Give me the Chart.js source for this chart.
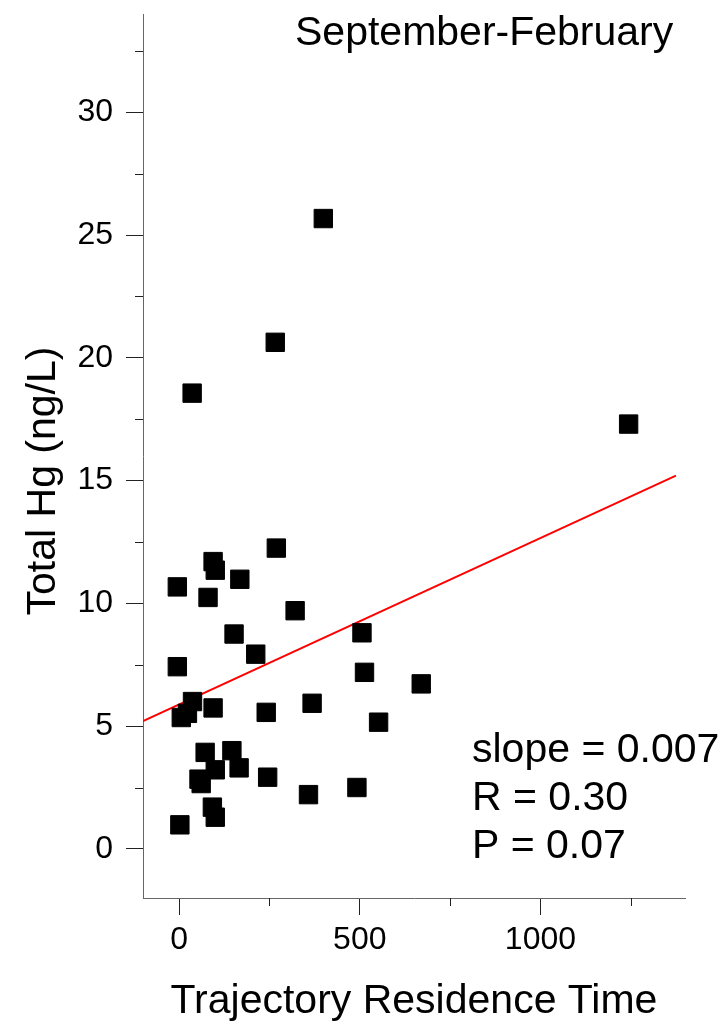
<!DOCTYPE html>
<html>
<head>
<meta charset="utf-8">
<script src="https://cdn.jsdelivr.net/npm/chart.js@4.4.1/dist/chart.umd.min.js"></script>
<style>
  html, body { margin: 0; padding: 0; background: #fff; }
  #wrap { width: 725px; height: 1025px; position: relative; }
</style>
</head>
<body>
<div id="wrap"><canvas id="ch"></canvas></div>
<script>
// residence time vs total Hg, Sept-Feb samples
var resTime = [399, 266, 36, 1244, 269, 94, 100, 168, -5, 80, 321, 152, 506, 212, -5, 513, 670,
               37, 6, 23, 94, 241, 368, 552, 72, 146, 166, 100, 55, 61, 245, 358, 492, 92, 100, 2];
var totalHg = [25.67, 20.63, 18.56, 17.3, 12.25, 11.7, 11.35, 10.98, 10.67, 10.24, 9.7, 8.75, 8.8, 7.93, 7.42, 7.19, 6.72,
               6.0, 5.35, 5.52, 5.74, 5.56, 5.93, 5.16, 3.93, 4.0, 3.3, 3.22, 2.84, 2.66, 2.92, 2.21, 2.5, 1.7, 1.29, 0.98];

// fitted line end points
var fitX = [-100, 1375];
var fitY = [5.2, 15.2];

var xMajorTicks = [0, 500, 1000];
var yMajorTicks = [0, 5, 10, 15, 20, 25, 30];
var xMinorTicks = [250, 750, 1250];
var yMinorTicks = [2.5, 7.5, 12.5, 17.5, 22.5, 27.5, 32.5];

var titleText = 'September-February';
var statsText = ['slope = 0.007', 'R = 0.30', 'P = 0.07'];
var xTitle = 'Trajectory Residence Time';
var yTitle = 'Total Hg (ng/L)';

var FONT = '"Liberation Sans", Arial, sans-serif';

var points = resTime.map(function (x, i) { return { x: x, y: totalHg[i] }; });
var fitPts = fitX.map(function (x, i) { return { x: x, y: fitY[i] }; });

// minor ticks + free text
var extras = {
  id: 'extras',
  afterDraw: function (chart) {
    var c = chart.ctx, xs = chart.scales.x, ys = chart.scales.y;
    var a = chart.chartArea;
    c.save();
    c.strokeStyle = '#222';
    c.lineWidth = 1;
    c.beginPath();
    xMinorTicks.forEach(function (v) {
      var px = Math.round(xs.getPixelForValue(v)) + 0.5;
      c.moveTo(px, a.bottom); c.lineTo(px, a.bottom + 8);
    });
    yMinorTicks.forEach(function (v) {
      var py = Math.round(ys.getPixelForValue(v)) + 0.5;
      c.moveTo(a.left, py); c.lineTo(a.left - 8, py);
    });
    c.stroke();

    c.fillStyle = '#000';
    c.font = '41px ' + FONT;
    c.textBaseline = 'alphabetic';
    c.textAlign = 'left';
    c.fillText(titleText, 295, 45);
    statsText.forEach(function (t, i) { c.fillText(t, 472, 762 + i * 48); });

    c.textAlign = 'center';
    c.fillText(xTitle, (a.left + a.right) / 2, 1013);

    c.translate(55, 481);
    c.rotate(-Math.PI / 2);
    c.fillText(yTitle, 0, 0);
    c.restore();
  }
};

function setTicks(list) {
  return function (s) { s.ticks = list.map(function (v) { return { value: v }; }); };
}

var ctx = document.getElementById('ch').getContext('2d');
var myChart = new Chart(ctx, {
    type: 'scatter',
    data: {
        datasets: [{
            data: points,
            pointStyle: 'rect',
            pointRadius: 13,
            backgroundColor: '#000',
            borderColor: '#000',
            borderWidth: 1
        }, {
            type: 'line',
            data: fitPts,
            borderColor: '#ff0000',
            borderWidth: 2,
            pointRadius: 0,
            fill: false
        }]
    },
    options: {
        responsive: true,
        maintainAspectRatio: false,
        animation: false,
        layout: { padding: { top: 13, right: 40, left: 0, bottom: 0 } },
        plugins: { legend: { display: false }, tooltip: { enabled: false } },
        scales: {
            x: {
                type: 'linear',
                min: -100,
                max: 1400,
                afterBuildTicks: setTicks(xMajorTicks),
                afterFit: function (s) { s.height = 127; s.paddingLeft = 0; s.paddingRight = 0; },
                border: { display: true, color: '#666', width: 1 },
                grid: { drawOnChartArea: false, drawTicks: true, tickLength: 17, tickColor: '#222' },
                ticks: { padding: 6, color: '#000', font: { family: FONT, size: 32 }, maxRotation: 0,
                         callback: function (v) { return String(v); } }
            },
            y: {
                min: -2,
                max: 34,
                afterBuildTicks: setTicks(yMajorTicks),
                afterFit: function (s) { s.width = 143; s.paddingTop = 0; s.paddingBottom = 0; },
                border: { display: true, color: '#666', width: 1 },
                grid: { drawOnChartArea: false, drawTicks: true, tickLength: 17, tickColor: '#222' },
                ticks: { padding: 13, color: '#000', font: { family: FONT, size: 32 },
                         callback: function (v) { return String(v); } }
            }
        }
    },
    plugins: [extras]
});
</script>
</body>
</html>
